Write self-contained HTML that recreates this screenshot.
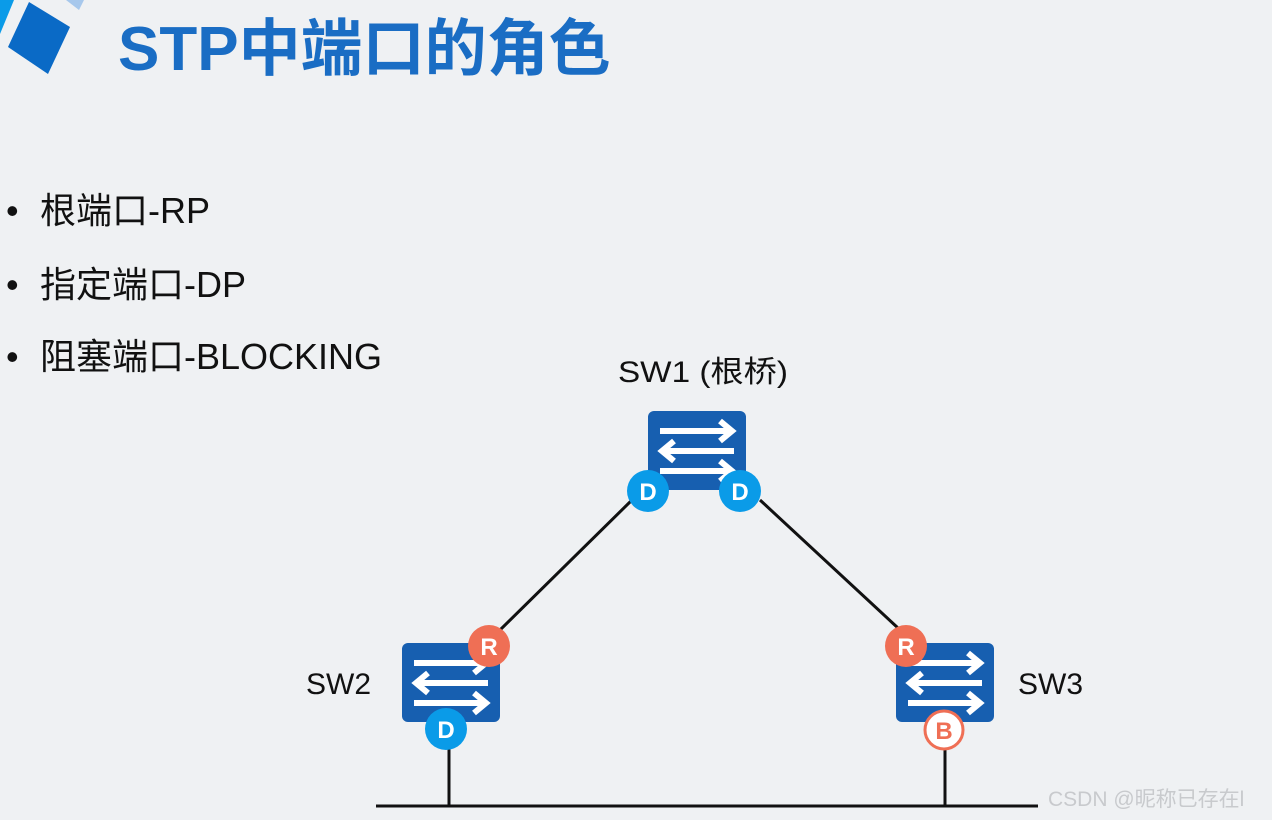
<!DOCTYPE html>
<html><head><meta charset="utf-8"><style>
html,body{margin:0;padding:0;background:#eff1f3;}
svg{display:block}
text{font-family:"Liberation Sans","Noto Sans CJK SC",sans-serif;}
</style></head><body>
<svg width="1272" height="820" viewBox="0 0 1272 820" xmlns="http://www.w3.org/2000/svg">
<rect width="1272" height="820" fill="#eff1f3"/>
<polygon points="0,0 14,0 0,34" fill="#0a9be8"/>
<polygon points="66,0 84,0 79,10" fill="#a7c8ec"/>
<polygon points="8,47 29,2 70,27 48,74" fill="#0a6ac6"/>
<text x="118" y="70" font-size="62" font-weight="bold" fill="#1a6dc4">STP中端口的角色</text>
<g font-size="36" fill="#111">
<text x="6" y="223">•</text><text x="40" y="223">根端口-RP</text>
<text x="6" y="297">•</text><text x="40" y="297">指定端口-DP</text>
<text x="6" y="369">•</text><text x="40" y="369">阻塞端口-BLOCKING</text>
</g>
<g font-size="30" fill="#111">
<text x="618" y="382" textLength="170" lengthAdjust="spacingAndGlyphs">SW1 (根桥)</text>
<text x="306" y="694">SW2</text>
<text x="1018" y="694">SW3</text>
</g>
<g stroke="#111" stroke-width="3">
<line x1="632" y1="500" x2="500" y2="630"/>
<line x1="760" y1="500" x2="898" y2="628"/>
<line x1="449" y1="745" x2="449" y2="806"/>
<line x1="945" y1="748" x2="945" y2="806"/>
<line x1="376" y1="806" x2="1038" y2="806"/>
</g>
<defs>
<g id="sw">
<rect x="0" y="0" width="98" height="79" rx="6" fill="#175fb0"/>
<g stroke="#fff" stroke-width="6" fill="none">
<line x1="12" y1="20" x2="82" y2="20"/><polyline points="72,10 84,20 72,30"/>
<line x1="16" y1="40" x2="86" y2="40"/><polyline points="26,30 14,40 26,50"/>
<line x1="12" y1="60" x2="82" y2="60"/><polyline points="72,50 84,60 72,70"/>
</g>
</g>
</defs>
<use href="#sw" x="648" y="411"/>
<use href="#sw" x="402" y="643"/>
<use href="#sw" x="896" y="643"/>
<g font-size="24" font-weight="bold" fill="#fff" text-anchor="middle">
<circle cx="648" cy="491" r="21" fill="#0a9be8"/><text x="648" y="500">D</text>
<circle cx="740" cy="491" r="21" fill="#0a9be8"/><text x="740" y="500">D</text>
<circle cx="489" cy="646" r="21" fill="#ef6f55"/><text x="489" y="655">R</text>
<circle cx="446" cy="729" r="21" fill="#0a9be8"/><text x="446" y="738">D</text>
<circle cx="906" cy="646" r="21" fill="#ef6f55"/><text x="906" y="655">R</text>
<circle cx="944" cy="730" r="19" fill="#fff" stroke="#ef6f55" stroke-width="3"/><text x="944" y="739" fill="#ef6f55">B</text>
</g>
<text x="1048" y="806" font-size="21" fill="#c8cacd">CSDN @昵称已存在l</text>
</svg>
</body></html>
